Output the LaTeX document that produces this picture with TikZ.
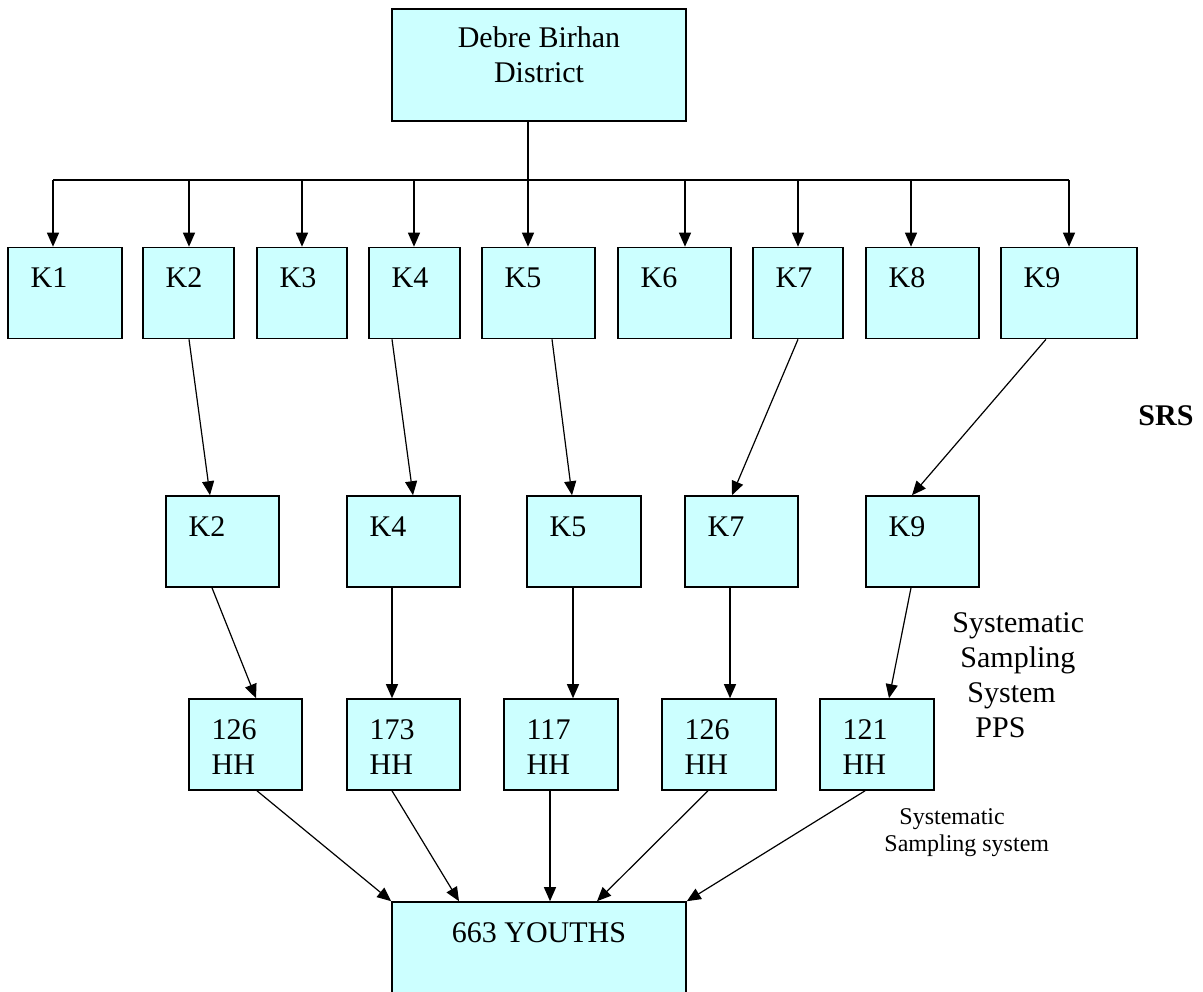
\documentclass[tikz,border=0pt]{standalone}
\usepackage{fontspec}
\setmainfont{Liberation Serif}
\usepackage{tikz}
\usetikzlibrary{arrows.meta,positioning,calc}
\definecolor{boxcyan}{HTML}{CCFFFF}
\tikzstyle{every picture}+=[>={Triangle[length=7pt,width=6pt]}]
\tikzstyle{kbox}=[rectangle,draw=black,fill=boxcyan,line width=0.8pt,inner sep=0pt,minimum height=45.5pt]
\tikzstyle{ktext}=[anchor=base west,inner sep=0pt,align=left,font=\fontsize{15}{17.5}\selectfont,xshift=11.5pt,yshift=-20.5pt]
\tikzstyle{ktwo}=[ktext,yshift=-17.5pt]
\tikzstyle{ctext}=[anchor=base,inner sep=0pt,align=center,font=\fontsize{15}{17.5}\selectfont,yshift=-19.5pt]
\tikzstyle{link}=[line width=0.6pt]

\begin{document}
\begin{tikzpicture}[x=0.5pt,y=-0.5pt]
\useasboundingbox (0,0) rectangle (1203,991);
% district
\node[kbox,minimum width=147pt,minimum height=56pt,label={[ctext,yshift=-17.5pt]north:Debre Birhan\\District}] (dist) at (539,65) {};
% kebeles
\node[kbox,minimum width=57pt,label={[ktext]north west:K1}] (k1) at (65,293) {};
\node[kbox,minimum width=45.5pt,label={[ktext]north west:K2}] (k2) at (188.5,293) {};
\node[kbox,minimum width=45pt,label={[ktext]north west:K3}] (k3) at (302,293) {};
\node[kbox,minimum width=45.5pt,label={[ktext]north west:K4}] (k4) at (414.5,293) {};
\node[kbox,minimum width=56.5pt,label={[ktext]north west:K5}] (k5) at (538.5,293) {};
\node[kbox,minimum width=56.5pt,label={[ktext]north west:K6}] (k6) at (674.5,293) {};
\node[kbox,minimum width=45pt,label={[ktext]north west:K7}] (k7) at (798,293) {};
\node[kbox,minimum width=56.5pt,label={[ktext]north west:K8}] (k8) at (922.5,293) {};
\node[kbox,minimum width=68pt,label={[ktext]north west:K9}] (k9) at (1069,293) {};
% selected kebeles
\node[kbox,minimum width=56.5pt,label={[ktext]north west:K2}] (s2) at (222.5,541.5) {};
\node[kbox,minimum width=56.5pt,label={[ktext]north west:K4}] (s4) at (403.5,541.5) {};
\node[kbox,minimum width=57pt,label={[ktext]north west:K5}] (s5) at (584,541.5) {};
\node[kbox,minimum width=56.5pt,label={[ktext]north west:K7}] (s7) at (741.5,541.5) {};
\node[kbox,minimum width=56.5pt,label={[ktext]north west:K9}] (s9) at (922.5,541.5) {};
% households
\node[kbox,minimum width=56.5pt,label={[ktwo]north west:126\\HH}] (h2) at (245.5,744.5) {};
\node[kbox,minimum width=56.5pt,label={[ktwo]north west:173\\HH}] (h4) at (403.5,744.5) {};
\node[kbox,minimum width=57pt,label={[ktwo]north west:117\\HH}] (h5) at (561,744.5) {};
\node[kbox,minimum width=57pt,label={[ktwo]north west:126\\HH}] (h7) at (719,744.5) {};
\node[kbox,minimum width=57pt,label={[ktwo]north west:121\\HH}] (h9) at (877,744.5) {};
% youths
\node[kbox,minimum width=147pt,minimum height=75pt,label={[ctext,yshift=-1pt]north:663 YOUTHS}] (youth) at (539,977) {};

% side notes
\node[anchor=base west,inner sep=0pt,font=\fontsize{15}{18}\selectfont\bfseries] (srs) at (1138,425) {SRS};
\node[anchor=base west,inner sep=0pt,align=left,font=\fontsize{15}{17.5}\selectfont] (pps) at (952,737)
  {Systematic\\\hspace{4pt}Sampling\\\hspace{7.5pt}System\\\hspace{11.5pt}PPS};
\node[anchor=base west,inner sep=0pt,align=left,font=\fontsize{12}{13.5}\selectfont] (sys) at (884,851)
  {\hspace{7.5pt}Systematic\\Sampling system};

% bus from the district
\foreach \n/\x in {1/53,2/189,3/302,4/414,5/528,6/685,7/798,8/911,9/1069}
  \coordinate (d\n) at (\x,180);
\draw[link] (dist.south -| d5) -- (d5);
\draw[link] (d1) -- (d9);
\foreach \n in {1,...,9}
  \draw[link,->] (d\n) -- (d\n |- k\n.north);

% kebele to selected kebele
\draw[link,->] ($(k2.south)+(0.5,0)$) -- ($(s2.north)+(-12.5,0)$);
\draw[link,->] ($(k4.south)+(-22.5,0)$) -- ($(s4.north)+(9.5,0)$);
\draw[link,->] ($(k5.south)+(13.5,0)$) -- ($(s5.north)+(-12,0)$);
\draw[link,->] (k7.south) -- ($(s7.north)+(-9.5,0)$);
\draw[link,->] ($(k9.south)+(-23,0)$) -- ($(s9.north)+(-10.5,0)$);

% selected kebele to households
\draw[link,->] ($(s2.south)+(-10.5,0)$) -- ($(h2.north)+(10.5,0)$);
\draw[link,->] ($(s4.south)+(-11.5,0)$) -- ($(h4.north)+(-11.5,0)$);
\draw[link,->] ($(s5.south)+(-11,0)$) -- ($(h5.north)+(12,0)$);
\draw[link,->] ($(s7.south)+(-11.5,0)$) -- ($(h7.north)+(11,0)$);
\draw[link,->] ($(s9.south)+(-11.5,0)$) -- ($(h9.north)+(12,0)$);

% households to youths
\draw[link,->] ($(h2.south)+(11.5,0)$) -- (youth.north west);
\draw[link,->] ($(h4.south)+(-11.5,0)$) -- ($(youth.north)+(-80,0)$);
\draw[link,->] ($(h5.south)+(-11,0)$) -- ($(youth.north)+(11,0)$);
\draw[link,->] ($(h7.south)+(-11,0)$) -- ($(youth.north)+(58,0)$);
\draw[link,->] ($(h9.south)+(-12,0)$) -- (youth.north east);
\end{tikzpicture}
\end{document}
